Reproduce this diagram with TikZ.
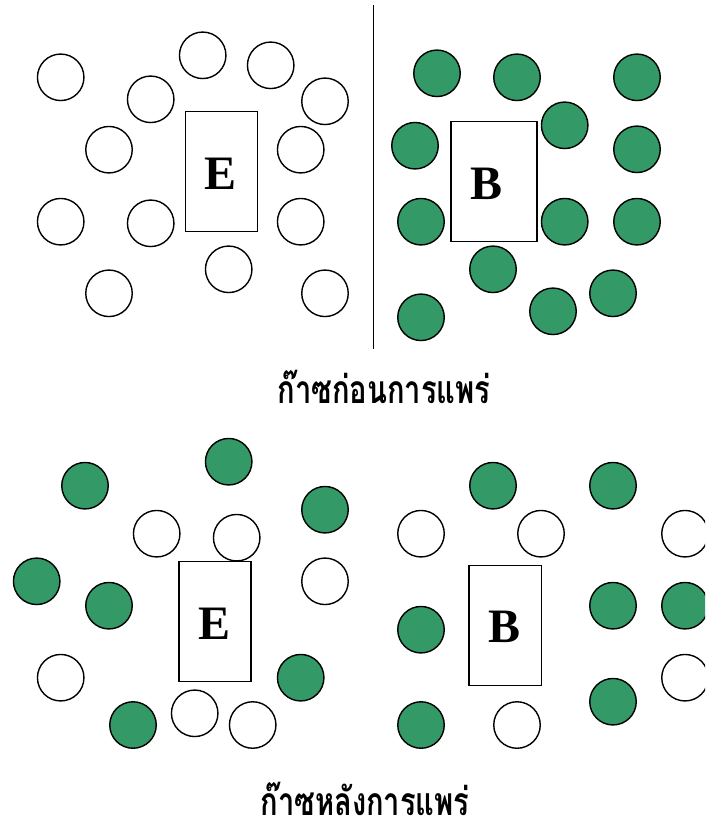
\documentclass[tikz,border=0pt]{standalone}
\usepackage{fontspec}
\setmainfont{Liberation Serif}
\newfontfamily\thaifont[Script=Thai]{Loma}
\usepackage{tikz}
\usetikzlibrary{positioning}
\definecolor{gasGreen}{RGB}{51,153,102}

\begin{document}
\begin{tikzpicture}[x=1pt, y=-1pt,
      gas/.style={circle, draw, line width=1.4pt, minimum size=46.5pt, inner sep=0pt},
      full/.style={gas, fill=gasGreen},
      empty/.style={gas, fill=white},
      tank/.style={rectangle, draw, line width=1.4pt, inner sep=0pt},
      tag/.style={font=\fontsize{48}{50}\selectfont\bfseries, inner sep=0pt},
      caption/.style={font=\thaifont\bfseries\fontsize{30}{36}\selectfont, inner sep=0pt,
        xscale=0.97, yscale=1.3, transform shape}]
    \useasboundingbox (0,0) rectangle (705,836);
    \clip (0,0) rectangle (705,836);
    % before: left chamber (E)
    \node[tank, minimum width=72pt, minimum height=120pt] (tankE) at (221.2,171.3) {};
    \node[tag] (tagE) at (220.7,174) {E};
    \foreach \n/\x/\y in {1/60.7/77.3, 2/150.7/99.3, 3/202.7/55.3, 4/270.7/65.3, 5/325/101.3,
        6/109/149.7, 7/300.7/149.7, 8/60.7/221.7, 9/150.7/223.3, 10/300.7/221.7,
        11/228.7/269.3, 12/109/293.3, 13/325/293.3}
      \node[empty] (e\n) at (\x,\y) {};
    % before: right chamber (B)
    \node[tank, minimum width=86pt, minimum height=119.6pt] (tankB) at (494,181.5) {};
    \node[tag] (tagB) at (486.7,184) {B};
    \foreach \n/\x/\y in {1/437/73.3, 2/517/77.3, 3/637/77.3, 4/564.7/125.3, 5/415/145.7,
        6/637/149.3, 7/421/221.7, 8/564.7/221.7, 9/637/221.7, 10/493/269.3,
        11/613/293.3, 12/553/311.3, 13/421/317.3}
      \node[full] (b\n) at (\x,\y) {};
    % wall
    \coordinate (walltop) at (373.3,5);
    \coordinate (wallbot) at (373.3,349);
    \draw[line width=1.4pt] (walltop) -- (wallbot);
    \node[caption] (before) at (384,387) {ก๊าซก่อนการแพร่};
    % after: left (E)
    \node[tank, minimum width=72pt, minimum height=120pt] (tankE2) at (215,621.7) {};
    \node[tag] (tagE2) at (214.3,624) {E};
    \foreach \n/\x/\y in {1/85/485.7, 2/228.7/461.7, 3/325/509.7, 4/36.7/581.3,
        5/109/605.7, 6/300.7/677.7, 7/133/725}
      \node[full] (f\n) at (\x,\y) {};
    \foreach \n/\x/\y in {1/156.7/533.7, 2/236.7/537.7, 3/325/581.3, 4/60.7/677.7,
        5/194.7/713.3, 6/252.7/725}
      \node[empty] (w\n) at (\x,\y) {};
    % after: right (B)
    \node[tank, minimum width=72.3pt, minimum height=120pt] (tankB2) at (505.2,625.7) {};
    \node[tag] (tagB2) at (504.3,627.3) {B};
    \foreach \n/\x/\y in {1/493/485.7, 2/613/485.7, 3/421/629.7, 4/613/605.7,
        5/685/605.7, 6/613/701.7, 7/421/725}
      \node[full] (g\n) at (\x,\y) {};
    \foreach \n/\x/\y in {1/421/533.7, 2/541/533.7, 3/685/533.7, 4/685/677.7, 5/517/725}
      \node[empty] (v\n) at (\x,\y) {};
    \node[caption] (after) at (365,799) {ก๊าซหลังการแพร่};
  \end{tikzpicture}
\end{document}
